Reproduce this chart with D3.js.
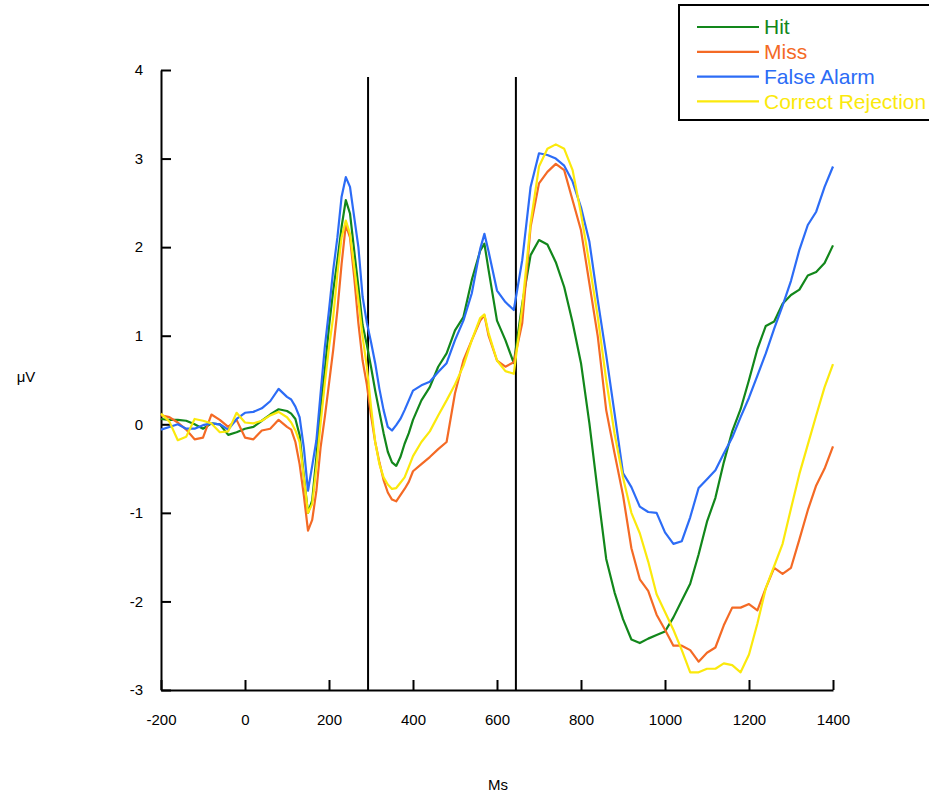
<!DOCTYPE html>
<html>
<head>
<meta charset="utf-8">
<script src="https://cdn.jsdelivr.net/npm/d3@7"></script>
<style>
  body { margin: 0; background: #fff; }
  svg { display: block; font-family: Arial, "Liberation Sans", sans-serif; }
</style>
</head>
<body>
<svg id="chart" width="929" height="793"></svg>
<script>
// sample times (ms)
let times = [-200,-180,-160,-140,-120,-100,-80,-60,-40,-20,0,20,40,60,80,100,
  110,120,130,140,150,160,170,180,190,200,210,220,230,240,250,260,270,280,290,300,
  310,320,330,340,350,360,370,380,390,400,
  420,440,460,480,500,520,540,560,570,
  580,600,620,640,660,680,700,720,740,760,780,800,820,840,
  860,880,900,920,940,960,980,1000,1020,1040,1060,1080,1100,1120,1140,1160,1180,1200,1220,1240,
  1260,1280,1300,1320,1340,1360,1380,1400];

let hit = [0.06,0.05,0.05,0.04,0.0,-0.05,0.01,0.0,-0.12,-0.09,-0.05,-0.03,0.04,0.11,0.17,0.15,
  0.12,0.06,-0.12,-0.58,-1.0,-0.86,-0.37,0.2,0.61,1.1,1.51,1.85,2.23,2.53,2.38,1.96,1.55,1.12,0.9,0.65,
  0.38,0.14,-0.1,-0.31,-0.43,-0.47,-0.37,-0.22,-0.1,0.05,
  0.27,0.42,0.65,0.8,1.06,1.21,1.63,1.96,2.04,
  1.74,1.17,0.95,0.69,1.36,1.91,2.08,2.03,1.83,1.55,1.15,0.69,0.01,-0.77,
  -1.52,-1.9,-2.2,-2.43,-2.47,-2.42,-2.38,-2.34,-2.18,-1.99,-1.8,-1.47,-1.1,-0.83,-0.43,-0.08,0.17,0.5,0.85,1.11,
  1.16,1.36,1.46,1.52,1.68,1.72,1.82,2.02];

let miss = [0.1,0.08,0.02,-0.06,-0.17,-0.15,0.11,0.05,-0.03,0.05,-0.15,-0.17,-0.07,-0.05,0.05,-0.03,
  -0.06,-0.2,-0.45,-0.8,-1.2,-1.08,-0.75,-0.26,0.08,0.46,0.84,1.29,1.81,2.25,2.11,1.66,1.14,0.72,0.45,0.1,
  -0.2,-0.43,-0.63,-0.77,-0.85,-0.87,-0.8,-0.73,-0.65,-0.53,
  -0.45,-0.37,-0.28,-0.2,0.35,0.72,0.95,1.17,1.23,
  1.0,0.72,0.65,0.7,1.14,2.23,2.72,2.85,2.94,2.87,2.53,2.19,1.59,0.99,
  0.16,-0.33,-0.8,-1.4,-1.75,-1.88,-2.15,-2.32,-2.5,-2.5,-2.55,-2.68,-2.58,-2.52,-2.27,-2.07,-2.07,-2.03,-2.1,-1.85,
  -1.62,-1.69,-1.62,-1.3,-0.97,-0.69,-0.5,-0.25];

let falseAlarm = [-0.06,-0.03,0.0,-0.05,-0.05,-0.01,0.01,0.0,-0.06,0.06,0.13,0.14,0.18,0.26,0.4,0.31,
  0.28,0.2,0.08,-0.26,-0.75,-0.47,-0.18,0.35,0.87,1.29,1.74,2.11,2.57,2.79,2.68,2.34,2.0,1.44,1.15,0.93,
  0.69,0.4,0.16,-0.03,-0.07,-0.01,0.06,0.16,0.27,0.38,
  0.44,0.48,0.59,0.69,0.95,1.17,1.48,1.98,2.15,
  1.95,1.51,1.38,1.29,1.85,2.68,3.06,3.04,3.0,2.92,2.74,2.45,2.06,1.4,
  0.78,0.12,-0.55,-0.71,-0.93,-0.99,-1.0,-1.22,-1.35,-1.32,-1.05,-0.72,-0.62,-0.52,-0.33,-0.15,0.08,0.3,0.55,0.8,
  1.08,1.34,1.62,1.97,2.25,2.4,2.68,2.91];

let correctRejection = [0.12,0.03,-0.18,-0.14,0.06,0.04,0.01,-0.09,-0.08,0.13,0.02,0.01,0.04,0.1,0.14,0.08,
  0.02,-0.07,-0.2,-0.6,-1.0,-0.9,-0.48,0.01,0.46,0.87,1.21,1.7,2.11,2.3,2.15,1.78,1.4,0.99,0.65,0.2,
  -0.2,-0.45,-0.6,-0.68,-0.73,-0.72,-0.66,-0.6,-0.48,-0.36,
  -0.2,-0.08,0.1,0.27,0.45,0.66,0.95,1.2,1.24,
  1.03,0.72,0.6,0.57,1.32,2.27,2.91,3.11,3.16,3.11,2.87,2.38,1.81,1.21,
  0.5,-0.11,-0.6,-1.0,-1.23,-1.55,-1.92,-2.12,-2.32,-2.55,-2.8,-2.8,-2.76,-2.76,-2.7,-2.72,-2.8,-2.6,-2.25,-1.85,
  -1.6,-1.35,-0.95,-0.56,-0.23,0.1,0.42,0.68];

let seriesNames = ["Hit", "Miss", "False Alarm", "Correct Rejection"];
let seriesValues = [hit, miss, falseAlarm, correctRejection];
let colors = ["#12871b", "#f46a25", "#2c6cf6", "#fbe90c"];

let xTicks = [-200, 0, 200, 400, 600, 800, 1000, 1200, 1400];
let yTicks = [-3, -2, -1, 0, 1, 2, 3, 4];
let markers = [293, 645]; // vertical reference lines (ms)

let svg = d3.select("#chart");

let x = d3.scaleLinear().domain([-200, 1400]).range([161, 833]);
let y = d3.scaleLinear().domain([-3, 4]).range([690, 70]);

// axes, ticks pointing inward
let yAxis = svg.append("g")
  .attr("transform", "translate(161,0)")
  .call(d3.axisLeft(y).tickValues(yTicks).tickSize(-10).tickSizeOuter(0)
    .tickPadding(18).tickFormat(d => String(d)));

let xAxis = svg.append("g")
  .attr("transform", "translate(0,690)")
  .call(d3.axisBottom(x).tickValues(xTicks).tickSize(-10).tickSizeOuter(0)
    .tickPadding(24).tickFormat(d => String(d)));

svg.selectAll(".domain, .tick line")
  .attr("stroke", "#000")
  .attr("stroke-width", 2);
svg.selectAll(".tick text")
  .attr("fill", "#000")
  .style("font-size", "15px")
  .style("font-family", "Arial, 'Liberation Sans', sans-serif");

// vertical markers
svg.selectAll(".marker")
  .data(markers)
  .enter()
  .append("line")
  .attr("class", "marker")
  .attr("x1", d => x(d)).attr("x2", d => x(d))
  .attr("y1", y(4) + 7).attr("y2", y(-3))
  .attr("stroke", "#000")
  .attr("stroke-width", 2);

// series lines
let line = d3.line()
  .x((d, i) => x(times[i]))
  .y(d => y(d));

svg.selectAll(".series")
  .data(seriesValues)
  .enter()
  .append("path")
  .attr("class", "series")
  .attr("d", d => line(d))
  .attr("fill", "none")
  .attr("stroke", (d, i) => colors[i])
  .attr("stroke-width", 2.2)
  .attr("stroke-linejoin", "round");

// axis titles
svg.append("text")
  .attr("x", 26).attr("y", 377)
  .attr("dy", "0.35em")
  .attr("text-anchor", "middle")
  .style("font-size", "15px")
  .text("μV");

svg.append("text")
  .attr("x", 498).attr("y", 785)
  .attr("dy", "0.35em")
  .attr("text-anchor", "middle")
  .style("font-size", "15px")
  .text("Ms");

// legend
let legend = svg.append("g");
legend.append("rect")
  .attr("x", 679).attr("y", 5)
  .attr("width", 270).attr("height", 115)
  .attr("fill", "#fff")
  .attr("stroke", "#000")
  .attr("stroke-width", 2);

let items = legend.selectAll(".item")
  .data(seriesNames)
  .enter()
  .append("g")
  .attr("class", "item")
  .attr("transform", (d, i) => "translate(0," + (27 + i * 24.8) + ")");

items.append("line")
  .attr("x1", 697).attr("x2", 759)
  .attr("stroke", (d, i) => colors[i])
  .attr("stroke-width", 2.2);

items.append("text")
  .attr("x", 764)
  .attr("dy", "0.35em")
  .attr("fill", (d, i) => colors[i])
  .style("font-size", "21px")
  .text(d => d);
</script>
</body>
</html>
